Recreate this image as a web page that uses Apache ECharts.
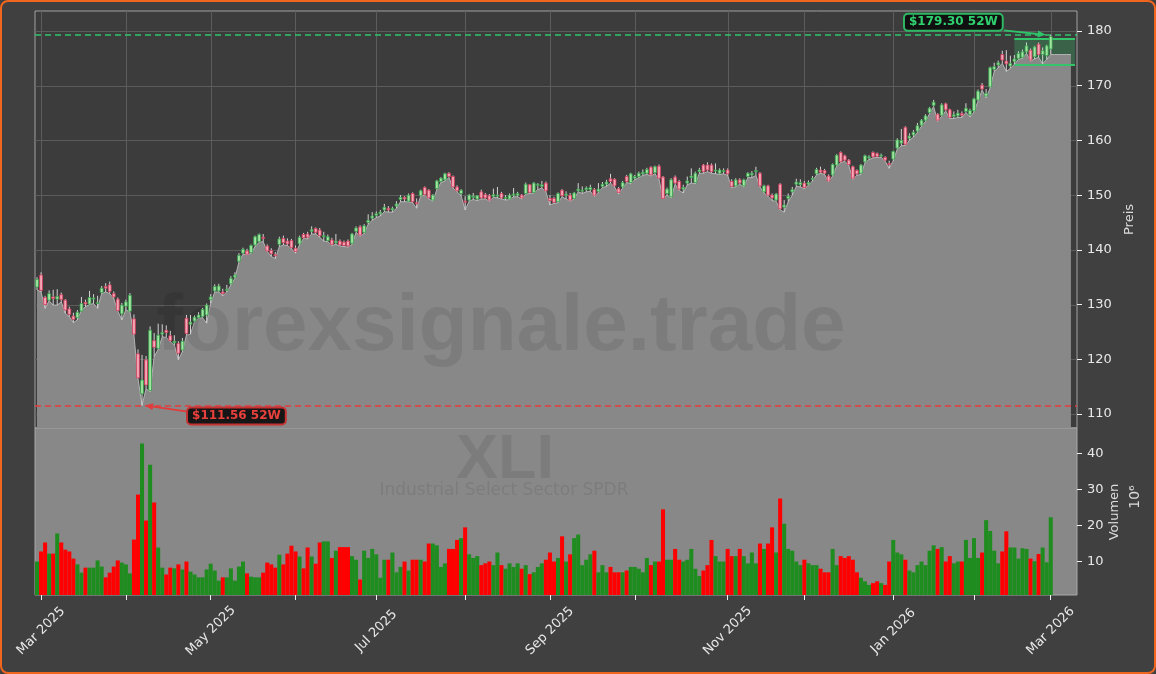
<!DOCTYPE html>
<html>
<head>
<meta charset="utf-8">
<script src="https://cdn.jsdelivr.net/npm/echarts@6/dist/echarts.min.js"></script>
<style>
html,body{margin:0;padding:0;background:#404040;}
#wrap{position:relative;width:1156px;height:674px;}
#chart{position:absolute;left:0;top:0;width:1156px;height:674px;}
#frame{position:absolute;left:0;top:0;width:1156px;height:674px;box-sizing:border-box;border:2px solid #f0661e;border-radius:8px;pointer-events:none;}
</style>
</head>
<body>
<div id="wrap"><div id="chart"></div><div id="frame"></div></div>
<script>
// ---------- data ----------
const startDate = '2025-02-28';
const endDate = '2026-03-02';
const holidays = ['2025-04-18','2025-05-26','2025-06-19','2025-07-04','2025-09-01','2025-11-27','2025-12-25','2026-01-01','2026-01-19','2026-02-16'];
const monthNames = ['Jan','Feb','Mar','Apr','May','Jun','Jul','Aug','Sep','Oct','Nov','Dec'];

const opens = [
133.2,135.4,131.3,130.8,131.4,131.0,131.8,130.8,129.2,127.9,
127.6,128.8,130.4,130.1,131.0,130.2,132.2,133.3,133.6,132.0,
131.0,128.3,129.7,128.8,127.4,121.0,113.7,119.9,114.3,123.4,
122.0,124.6,125.3,124.3,123.0,122.9,121.7,127.5,126.4,127.0,
127.6,127.8,128.1,130.9,132.5,132.5,132.3,132.6,133.8,135.0,
137.9,139.4,139.8,139.5,140.9,141.5,142.3,140.7,139.9,139.1,
141.0,142.1,141.6,141.7,140.3,141.1,142.8,142.9,143.4,143.9,
143.6,142.4,141.7,141.8,141.3,141.6,141.4,141.6,141.2,143.4,
144.2,143.2,145.0,145.8,146.3,146.6,147.3,147.6,147.3,148.0,
149.2,149.6,148.9,150.3,148.6,149.9,151.4,150.9,149.1,151.2,
152.5,152.8,154.0,153.4,151.5,150.3,148.9,149.1,149.6,149.3,
150.6,150.1,149.9,149.8,149.8,150.3,149.4,149.3,150.0,150.0,
150.0,150.3,151.9,150.5,151.8,151.6,152.2,149.4,149.4,148.8,
150.9,150.0,150.0,149.4,150.8,150.8,151.0,151.0,151.0,150.7,
151.6,152.0,153.0,152.9,151.2,151.5,153.4,152.3,153.1,153.4,
153.9,154.0,155.1,154.1,155.3,153.3,150.3,149.7,153.3,152.5,
151.1,152.2,153.2,152.3,154.3,155.5,155.5,155.5,154.4,154.0,
154.3,154.6,152.5,151.7,152.8,151.7,153.4,153.7,154.3,154.0,
150.6,151.7,150.0,149.1,152.0,147.8,149.4,150.6,152.0,151.9,
152.2,152.0,152.9,153.9,154.6,154.5,153.5,153.7,155.5,157.8,
157.2,156.4,155.2,154.5,154.0,156.1,156.8,157.8,157.6,157.2,
156.9,155.8,156.6,158.6,159.5,162.4,160.4,161.0,161.7,162.8,
163.7,165.1,166.4,164.8,164.6,166.7,165.6,164.4,164.5,164.9,
165.3,164.7,165.4,167.4,170.1,168.1,169.8,173.0,173.8,175.7,
174.5,173.6,174.4,175.0,175.2,176.2,176.5,175.3,177.6,175.7,
175.5,176.7];

const closes = [
134.6,132.6,130.0,132.0,131.1,131.5,130.9,129.0,128.2,127.3,
128.6,130.2,130.1,131.3,131.2,130.4,133.0,133.0,132.4,131.4,
128.9,129.9,130.5,131.7,124.6,116.6,116.2,115.3,125.3,122.2,
124.4,124.9,124.9,123.4,123.3,121.1,123.3,124.7,126.8,127.7,
128.1,129.1,129.9,131.4,133.3,133.4,132.0,132.8,134.8,135.4,
139.0,140.1,139.2,140.8,142.4,142.8,142.1,139.8,139.3,139.0,
142.0,141.3,141.1,140.4,139.7,142.3,142.2,142.3,143.7,143.2,
142.6,142.6,142.4,141.0,141.6,140.9,140.8,140.7,142.9,144.0,
142.7,144.4,145.4,146.2,146.6,146.9,147.8,147.3,147.6,148.4,
149.6,149.3,150.0,148.8,148.5,150.8,150.1,149.5,150.0,152.6,
153.1,153.9,153.4,151.5,150.8,150.9,148.7,150.0,149.8,149.9,
149.5,149.5,149.1,150.1,150.0,149.5,149.6,150.0,150.2,150.3,
149.5,152.0,150.5,152.2,152.0,151.9,150.8,149.0,148.7,150.3,
149.9,150.2,149.1,150.4,151.1,150.9,151.3,151.4,150.0,151.1,
152.0,152.4,152.5,151.7,150.5,152.3,152.5,153.9,153.4,154.0,
154.2,154.7,153.7,155.2,153.1,149.4,151.1,152.8,152.2,151.1,
151.4,152.6,153.5,154.0,154.6,154.3,154.6,154.3,154.6,154.6,
154.5,153.9,151.6,152.8,152.2,152.8,154.0,154.0,154.5,151.7,
151.7,150.0,149.5,150.2,147.5,148.2,149.8,151.0,152.4,152.3,
151.4,152.3,153.1,154.7,154.2,154.0,152.6,155.6,157.3,156.1,
156.4,155.6,153.1,153.9,155.5,157.2,157.0,157.0,157.1,157.3,
156.4,155.6,158.0,160.1,160.0,159.3,160.8,161.5,162.7,163.7,
164.5,165.9,167.0,163.7,166.5,165.6,164.2,164.7,165.0,164.6,
165.9,165.5,167.6,169.0,169.4,168.6,173.3,173.5,174.2,174.7,
174.0,174.1,174.9,175.9,176.2,177.3,174.7,177.1,175.7,176.4,
177.3,179.0];

const highs = [
135.0,135.9,131.6,132.6,132.7,132.8,132.2,131.0,129.6,128.5,
129.0,131.4,130.9,132.5,131.9,131.6,133.4,133.9,134.2,132.4,
131.3,130.3,130.9,132.1,128.2,121.8,120.8,120.6,126.0,124.8,
126.5,126.4,126.2,125.2,124.4,123.3,123.9,128.1,128.1,128.0,
128.6,129.4,130.2,131.9,133.7,133.8,132.9,133.6,135.2,135.9,
139.4,140.4,140.2,141.0,142.6,143.0,142.9,141.0,140.3,139.6,
142.4,142.6,142.1,142.0,140.8,142.6,143.1,143.3,144.3,144.1,
144.0,143.3,142.8,142.2,142.9,141.9,141.7,141.9,143.1,144.3,
144.5,144.7,146.5,146.9,147.0,147.3,148.4,148.0,147.9,148.9,
150.0,149.8,150.3,150.5,149.4,151.0,151.6,151.1,150.2,152.8,
153.3,154.1,154.2,153.6,151.8,151.1,149.8,150.2,150.4,150.0,
151.0,150.4,150.2,151.2,151.5,150.6,150.0,150.3,151.3,150.6,
150.2,152.3,152.0,152.4,152.2,152.6,152.5,150.0,149.7,150.5,
151.1,150.7,150.4,150.6,152.2,151.6,151.6,151.9,151.3,152.2,
152.4,152.8,153.9,153.1,151.5,152.6,153.7,154.1,153.7,154.3,
154.7,155.0,155.3,155.4,155.6,153.5,151.4,153.1,153.6,152.8,
151.9,153.4,154.9,154.3,155.0,155.7,156.0,155.8,155.8,154.9,
154.9,154.9,152.9,153.1,153.1,153.0,154.2,154.4,155.2,154.2,
151.9,151.9,150.3,150.4,152.2,149.1,150.3,151.5,153.0,152.9,
152.6,152.7,153.5,155.0,155.2,154.8,153.8,155.8,157.5,158.0,
157.4,156.6,155.4,154.7,155.7,157.4,157.3,158.0,157.8,157.6,
157.1,156.3,158.1,160.4,162.1,162.6,161.3,161.9,163.2,163.9,
164.8,166.1,167.4,165.0,166.8,166.9,165.8,165.3,165.6,165.3,
166.8,165.8,167.8,169.3,170.5,169.4,173.5,174.2,174.6,176.4,
176.5,175.5,175.6,176.3,176.6,177.9,176.8,177.3,177.9,177.0,
177.5,179.3];

const lows = [
132.7,132.3,129.3,130.7,129.9,129.9,130.5,128.4,127.8,126.7,
127.2,129.0,129.6,130.0,130.2,129.3,132.0,132.3,132.0,131.1,
128.8,127.2,129.0,128.7,124.4,116.5,111.56,114.6,114.1,120.5,
121.8,124.1,124.0,123.2,122.6,119.9,121.4,124.4,124.6,126.9,
127.5,127.6,126.6,130.2,132.3,132.3,131.6,132.3,133.6,134.8,
137.8,139.2,139.1,139.4,140.6,141.4,141.5,139.7,138.8,138.4,
140.6,140.9,140.8,140.2,139.4,140.9,142.1,142.0,142.9,142.9,
142.3,141.6,141.5,140.8,141.0,140.7,140.6,140.5,141.0,143.2,
142.5,143.0,144.7,145.4,145.9,146.2,147.0,146.9,146.9,147.6,
148.8,148.8,148.8,148.6,147.6,149.8,150.0,149.3,148.9,151.0,
152.3,152.6,153.2,151.3,150.6,149.9,147.3,148.9,149.2,149.0,
149.3,149.3,148.9,149.6,149.5,149.3,149.1,149.2,149.7,149.7,
149.3,150.2,150.3,150.4,151.0,151.3,150.6,148.2,148.5,148.6,
149.7,149.3,148.9,149.3,150.6,150.3,150.6,150.7,149.8,150.5,
151.4,151.6,152.2,151.5,150.2,151.3,152.3,152.1,152.8,153.2,
153.6,153.8,153.5,153.9,152.9,149.3,150.0,149.5,152.0,150.9,
150.4,151.9,152.2,152.1,154.0,154.0,154.3,154.0,153.9,153.8,
153.9,153.6,151.4,151.5,152.0,151.5,153.2,153.2,153.6,151.5,
150.4,149.8,149.0,148.9,147.3,146.9,148.8,150.0,151.6,151.5,
151.2,151.8,152.6,153.7,154.0,153.8,152.4,153.5,155.3,155.9,
156.2,155.4,152.9,153.6,153.8,155.9,156.5,156.8,156.9,156.9,
156.2,154.9,156.3,158.4,159.0,159.1,160.0,160.6,161.5,162.6,
163.5,164.9,166.2,163.5,164.4,165.4,164.0,164.0,164.2,164.2,
165.1,164.3,165.2,167.2,169.2,167.8,169.6,172.6,173.3,174.1,
172.6,173.2,173.9,174.8,175.0,175.9,174.5,174.9,175.2,174.0,
174.8,175.7];

const volumes = [
10.0,12.8,15.3,12.2,12.2,17.8,15.3,13.3,12.8,10.8,
9.2,6.9,8.3,8.3,8.3,10.3,8.6,5.6,6.9,8.6,
10.3,9.7,9.2,6.7,16.1,28.6,42.8,21.4,36.9,26.4,
13.9,8.3,6.4,8.3,8.1,9.2,7.8,10.0,7.2,6.4,
5.6,5.6,7.8,9.4,7.5,4.7,5.6,5.6,8.1,4.7,
8.6,10.0,6.7,5.8,5.6,5.6,6.9,9.7,9.2,8.3,
11.9,9.2,12.2,14.4,12.8,11.4,8.1,13.9,11.4,9.4,
15.3,15.6,15.6,11.0,13.0,14.0,14.0,14.0,11.5,10.5,
5.0,13.0,11.0,13.5,12.0,5.5,10.5,10.5,12.5,7.0,
8.5,10.0,7.5,10.5,10.5,10.5,10.0,15.0,15.0,14.5,
8.5,9.5,13.5,13.5,16.0,16.5,19.5,12.0,11.0,11.5,
9.0,9.5,10.0,9.0,12.5,9.0,8.0,9.5,8.5,9.5,
8.0,9.0,6.5,7.0,8.5,9.5,10.5,12.5,10.0,11.0,
17.0,10.0,12.0,16.5,17.5,9.0,10.5,12.0,13.0,7.0,
9.0,7.0,8.5,7.0,7.0,7.0,7.5,8.5,8.5,8.0,
7.0,11.0,9.0,10.0,10.0,24.5,10.5,10.5,13.5,10.5,
10.0,10.5,13.5,8.0,6.0,7.5,9.0,16.0,11.5,10.0,
10.0,13.5,11.5,11.5,13.5,11.5,9.5,12.5,9.5,15.0,
13.5,15.0,19.5,12.5,27.5,20.5,13.5,13.0,10.0,9.0,
10.5,9.5,9.0,9.0,8.0,7.0,7.0,13.5,9.0,11.5,
11.0,11.5,10.5,7.0,5.5,4.5,3.5,4.0,4.5,4.0,
3.5,10.0,16.0,12.5,12.0,10.5,7.5,7.0,9.0,10.0,
9.0,13.0,14.5,13.5,14.0,10.0,11.5,9.5,10.0,10.0,
16.0,11.0,16.5,11.0,12.5,21.5,18.5,13.0,9.5,12.8,
18.4,13.9,13.9,10.8,13.7,13.5,10.8,10.1,12.1,13.9,
9.8,22.3];

const priceTicks = [110,120,130,140,150,160,170,180];
const volumeTicks = [10,20,30,40];
const boxRange = [173.9, 178.5];
const boxStart = '2026-02-17';
const ticker = 'XLI';
const tickerName = 'Industrial Select Sector SPDR';
const watermark = 'forexsignale.trade';

// ---------- build ----------
function tradingDays(a, b) {
  const out = [];
  const [y1,m1,d1] = a.split('-').map(Number);
  const [y2,m2,d2] = b.split('-').map(Number);
  let t = Date.UTC(y1,m1-1,d1);
  const end = Date.UTC(y2,m2-1,d2);
  while (t <= end) {
    const d = new Date(t);
    const wd = d.getUTCDay();
    const s = d.toISOString().slice(0,10);
    if (wd !== 0 && wd !== 6 && holidays.indexOf(s) < 0) out.push(s);
    t += 86400000;
  }
  return out;
}
const dates = tradingDays(startDate, endDate);
const N = dates.length;
const PAD = 6;
const categories = dates.concat(Array.from({length: PAD}, (_, i) => 'pad' + i));
const monthStart = categories.map((d, k) => k > 0 && k < N && d.slice(0,7) !== categories[k-1].slice(0,7));
const showLabel = categories.map((d, k) => monthStart[k] && (Number(d.slice(5,7)) - 1) % 2 === 0);

const candleData = dates.map((d, k) => [k, opens[k], closes[k], lows[k], highs[k]]);
const areaData = lows.concat(Array.from({length: PAD - 1}, () => lows[N-1]));
const volData = volumes.map((v, k) => ({
  value: v,
  itemStyle: { color: closes[k] >= opens[k] ? '#1f8c1f' : '#ff0000' }
}));

const maxHigh = Math.max.apply(null, highs);
const kMax = highs.indexOf(maxHigh);
const minLow = Math.min.apply(null, lows);
const kMin = lows.indexOf(minLow);
const lastCat = categories[categories.length - 1];

const axisFont = 'DejaVu Sans';
const txt = '#e8e8e8';

function renderCandle(params, api) {
  const x = api.value(0);
  const o = api.value(1), c = api.value(2), l = api.value(3), h = api.value(4);
  const pO = api.coord([x, o]), pC = api.coord([x, c]);
  const pL = api.coord([x, l]), pH = api.coord([x, h]);
  const w = api.size([1, 0])[0] * 0.7;
  const up = c >= o;
  const top = Math.min(pO[1], pC[1]);
  const bot = Math.max(pO[1], pC[1]);
  return {
    type: 'group',
    children: [
      { type: 'line', shape: { x1: pH[0], y1: pH[1], x2: pL[0], y2: pL[1] },
        style: { stroke: '#d4d4d4', lineWidth: 1 } },
      { type: 'rect', shape: { x: pO[0] - w / 2, y: top, width: w, height: Math.max(bot - top, 1) },
        style: { fill: up ? '#a3e6a3' : '#f5a9b8', stroke: up ? '#34a04a' : '#d63a5a', lineWidth: 0.8 } }
    ]
  };
}

const chart = echarts.init(document.getElementById('chart'), null, { renderer: 'canvas' });

const option = {
  backgroundColor: '#404040',
  animation: false,
  textStyle: { fontFamily: axisFont },
  grid: [
    { left: 35, top: 11, width: 1042, height: 417, show: true, backgroundColor: '#3c3c3c', borderColor: '#a0a0a0', borderWidth: 1 },
    { left: 35, top: 428, width: 1042, height: 167, show: true, backgroundColor: '#888888', borderColor: '#a8a8a8', borderWidth: 1 }
  ],
  xAxis: [
    { type: 'category', gridIndex: 0, data: categories, boundaryGap: true,
      axisLine: { show: false }, axisTick: { show: false }, axisLabel: { show: false },
      splitLine: { show: false } },
    { type: 'category', gridIndex: 1, data: categories, boundaryGap: true,
      axisLine: { show: false },
      axisTick: { show: true, alignWithLabel: true, interval: (i) => monthStart[i], length: 5, lineStyle: { color: '#f0f0f0' } },
      axisLabel: { show: true, interval: (i) => showLabel[i], rotate: 45, align: 'center', verticalAlign: 'middle', margin: 36,
        color: txt, fontSize: 13, fontFamily: axisFont,
        formatter: (v) => monthNames[Number(v.slice(5,7)) - 1] + ' ' + v.slice(0,4) },
      splitLine: { show: false } }
  ],
  yAxis: [
    { type: 'value', gridIndex: 0, position: 'right', min: 107.44, max: 183.66,
      name: 'Preis', nameLocation: 'middle', nameGap: 38, nameRotate: 90,
      nameTextStyle: { color: '#dcdcdc', fontSize: 13, fontFamily: axisFont },
      axisLine: { show: false },
      axisTick: { show: true, length: 5, customValues: priceTicks, lineStyle: { color: '#f0f0f0' } },
      axisLabel: { show: true, customValues: priceTicks, margin: 10, color: txt, fontSize: 13, fontFamily: axisFont },
      splitLine: { show: false } },
    { type: 'value', gridIndex: 1, position: 'right', min: 0.7, max: 47.1,
      axisLine: { show: false },
      axisTick: { show: true, length: 5, customValues: volumeTicks, lineStyle: { color: '#f0f0f0' } },
      axisLabel: { show: true, customValues: volumeTicks, margin: 10, color: txt, fontSize: 13, fontFamily: axisFont },
      splitLine: { show: false } }
  ],
  series: [
    { type: 'line', xAxisIndex: 0, yAxisIndex: 0, data: areaData, z: 2,
      symbol: 'none', smooth: false,
      lineStyle: { color: '#b4b4b4', width: 1 },
      areaStyle: { color: '#888888', opacity: 1 },
      markLine: {
        silent: true, symbol: 'none', label: { show: false },
        data: [
          { yAxis: maxHigh, lineStyle: { color: '#2fc46a', width: 1.5, type: [6, 4] } },
          { yAxis: minLow, lineStyle: { color: '#e23b3b', width: 1.5, type: [6, 4] } },
          [{ coord: [boxStart, boxRange[1]], lineStyle: { color: '#34c46a', width: 2, type: 'solid' } }, { coord: [lastCat, boxRange[1]] }],
          [{ coord: [boxStart, boxRange[0]], lineStyle: { color: '#34c46a', width: 2, type: 'solid' } }, { coord: [lastCat, boxRange[0]] }]
        ]
      },
      markArea: {
        silent: true,
        itemStyle: { color: 'rgba(52,196,106,0.28)' },
        data: [[{ xAxis: boxStart, yAxis: boxRange[0] }, { xAxis: lastCat, yAxis: boxRange[1] }]]
      }
    },
    { type: 'custom', xAxisIndex: 0, yAxisIndex: 0, z: 5, renderItem: renderCandle,
      data: candleData, encode: { x: 0, y: [1, 2, 3, 4] }, clip: true },
    { type: 'bar', xAxisIndex: 1, yAxisIndex: 1, data: volData, barCategoryGap: '0%', z: 2 }
  ]
};
chart.setOption(option);

// ---------- decorations positioned through the axes ----------
const conv = (xy) => chart.convertToPixel({ xAxisIndex: 0, yAxisIndex: 0 }, xy);
const pMax = conv([kMax, maxHigh]);
const pMin = conv([kMin, minLow]);
const gLeft = 35, gRight = 35 + 1042, gTop = 11, gBottom = 11 + 417;

const gridEls = [];
priceTicks.forEach(v => {
  const y = Math.round(conv([0, v])[1]) + 0.5;
  gridEls.push({ type: 'line', z: 1, silent: true, shape: { x1: gLeft, y1: y, x2: gRight, y2: y }, style: { stroke: '#5c5c5c', lineWidth: 1 } });
});
categories.forEach((c, k) => {
  if (!monthStart[k]) return;
  const x = Math.round(conv([k, 150])[0]) + 0.5;
  gridEls.push({ type: 'line', z: 1, silent: true, shape: { x1: x, y1: gTop, x2: x, y2: gBottom }, style: { stroke: '#5c5c5c', lineWidth: 1 } });
});

function arrow(x1, y1, x2, y2, color) {
  const a = Math.atan2(y2 - y1, x2 - x1);
  const L = 8, W = 3.5;
  const bx = x2 - L * Math.cos(a), by = y2 - L * Math.sin(a);
  return [
    { type: 'line', z: 20, shape: { x1: x1, y1: y1, x2: bx, y2: by }, style: { stroke: color, lineWidth: 1.8 } },
    { type: 'polygon', z: 20, shape: { points: [[x2, y2], [bx - W * Math.sin(a), by + W * Math.cos(a)], [bx + W * Math.sin(a), by - W * Math.cos(a)]] }, style: { fill: color } }
  ];
}

const fmt = (v) => '$' + v.toFixed(2) + ' 52W';
const wmColor = 'rgba(0,0,0,0.085)';
const elements = gridEls.concat([
  { type: 'text', z: 3, x: 501, y: 328, style: { text: watermark, fill: wmColor, font: 'bold 80px "Liberation Sans"', textAlign: 'center', textVerticalAlign: 'middle' } },
  { type: 'text', z: 3, x: 505, y: 461, style: { text: ticker, fill: wmColor, font: 'bold 63px "Liberation Sans"', textAlign: 'center', textVerticalAlign: 'middle' } },
  { type: 'text', z: 3, x: 504, y: 491, style: { text: tickerName, fill: wmColor, font: '17px "DejaVu Sans"', textAlign: 'center', textVerticalAlign: 'middle' } },
  { type: 'text', z: 20, x: 1115, y: 512, rotation: Math.PI / 2, style: { text: 'Volumen', fill: '#dcdcdc', font: '13px "DejaVu Sans"', textAlign: 'center', textVerticalAlign: 'middle' } },
  { type: 'text', z: 20, x: 1135, y: 497, rotation: Math.PI / 2, style: { text: '10\u2076', fill: '#dcdcdc', font: '14px "DejaVu Sans"', textAlign: 'center', textVerticalAlign: 'middle' } },
  { type: 'text', z: 21, x: pMax[0] - 49, y: pMax[1] - 12.5,
    style: { text: fmt(maxHigh), fill: '#2fd170', font: 'bold 12px "DejaVu Sans"', textAlign: 'right', textVerticalAlign: 'middle',
      backgroundColor: '#101010', borderColor: '#2fb864', borderWidth: 2, borderRadius: 3, padding: [2, 4, 1, 4] } },
  { type: 'text', z: 21, x: pMin[0] + 46, y: pMin[1] + 10.5,
    style: { text: fmt(minLow), fill: '#e8403c', font: 'bold 12px "DejaVu Sans"', textAlign: 'left', textVerticalAlign: 'middle',
      backgroundColor: '#161616', borderColor: '#c63232', borderWidth: 2, borderRadius: 3, padding: [2, 4, 1, 4] } }
]).concat(arrow(pMax[0] - 47, pMax[1] - 4.5, pMax[0] - 5, pMax[1], '#2fc46a'))
  .concat(arrow(pMin[0] + 44, pMin[1] + 6, pMin[0] + 3, pMin[1], '#e23b3b'));

chart.setOption({ graphic: { elements: elements } });
</script>
</body>
</html>
